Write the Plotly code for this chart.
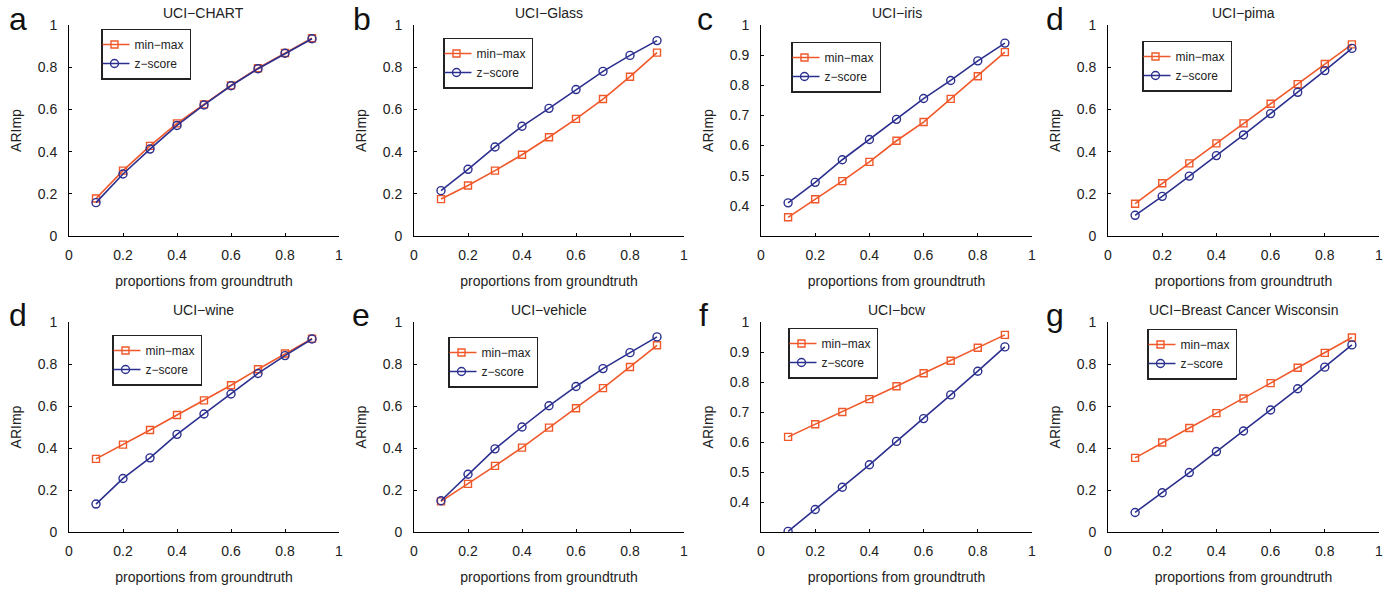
import plotly.graph_objects as go

x_props = [0.1, 0.2, 0.3, 0.4, 0.5, 0.6, 0.7, 0.8, 0.9]

titles = ["UCI\u2212CHART", "UCI\u2212Glass", "UCI\u2212iris", "UCI\u2212pima",
          "UCI\u2212wine", "UCI\u2212vehicle", "UCI\u2212bcw", "UCI\u2212Breast Cancer Wisconsin"]
letters = ["a", "b", "c", "d", "d", "e", "f", "g"]

minmax = [
    [0.178, 0.310, 0.427, 0.534, 0.624, 0.714, 0.795, 0.867, 0.937],
    [0.175, 0.239, 0.310, 0.385, 0.468, 0.555, 0.649, 0.755, 0.869],
    [0.362, 0.422, 0.482, 0.546, 0.616, 0.678, 0.755, 0.830, 0.910],
    [0.153, 0.250, 0.344, 0.439, 0.534, 0.627, 0.720, 0.815, 0.908],
    [0.348, 0.416, 0.486, 0.557, 0.627, 0.699, 0.775, 0.850, 0.921],
    [0.146, 0.229, 0.315, 0.402, 0.497, 0.589, 0.685, 0.786, 0.889],
    [0.617, 0.659, 0.700, 0.743, 0.786, 0.829, 0.871, 0.914, 0.957],
    [0.353, 0.426, 0.495, 0.566, 0.636, 0.709, 0.782, 0.853, 0.926],
]
zscore = [
    [0.158, 0.294, 0.412, 0.524, 0.621, 0.712, 0.793, 0.866, 0.935],
    [0.215, 0.316, 0.422, 0.520, 0.605, 0.694, 0.780, 0.856, 0.926],
    [0.410, 0.478, 0.553, 0.620, 0.687, 0.756, 0.816, 0.881, 0.940],
    [0.098, 0.188, 0.284, 0.381, 0.479, 0.580, 0.681, 0.784, 0.889],
    [0.133, 0.255, 0.353, 0.465, 0.562, 0.657, 0.755, 0.840, 0.919],
    [0.149, 0.275, 0.396, 0.500, 0.601, 0.693, 0.778, 0.854, 0.929],
    [0.302, 0.375, 0.449, 0.524, 0.602, 0.678, 0.757, 0.836, 0.917],
    [0.093, 0.187, 0.283, 0.383, 0.481, 0.581, 0.682, 0.785, 0.891],
]
y_ranges = [[0, 1], [0, 1], [0.3, 1], [0, 1], [0, 1], [0, 1], [0.3, 1], [0, 1]]
y_ticks_full = [0, 0.2, 0.4, 0.6, 0.8, 1]
y_ticks_short = [0.4, 0.5, 0.6, 0.7, 0.8, 0.9, 1]
x_ticks = [0, 0.2, 0.4, 0.6, 0.8, 1]

W, H = 1397, 590
col_px = [(69, 339), (414, 684), (761, 1032), (1108, 1379)]
row_px = [(25, 236), (322, 532)]
# legend: left edge x, vertical centre y (pixels)
legend_px = [(101, 54), (443, 63), (791, 67), (1142, 66),
             (112, 360), (448, 362), (788, 353), (1147, 354)]
letter_px = [(18, 19), (362, 19), (705, 19), (1055, 19),
             (18, 315), (361, 315), (703, 315), (1055, 315)]

RED = "#F0582A"
BLUE = "#2B2F8E"
FONT = "Liberation Sans, Arial, sans-serif"

fig = go.Figure()
layout = dict(
    template="none",
    width=W, height=H, margin=dict(l=0, r=0, t=0, b=0, autoexpand=False),
    paper_bgcolor="white", plot_bgcolor="white",
    font=dict(family=FONT, size=14, color="#222"),
    annotations=[], showlegend=True,
)

for i in range(8):
    r, c = divmod(i, 4)
    n = "" if i == 0 else str(i + 1)
    xa, ya = "x" + n, "y" + n
    leg = "legend" if i == 0 else "legend" + str(i + 1)
    x0, x1 = col_px[c]
    y0, y1 = row_px[r]
    fig.add_trace(go.Scatter(
        x=x_props, y=minmax[i], name="min\u2212max", mode="lines+markers",
        line=dict(color=RED, width=1.6),
        marker=dict(symbol="square-open", size=7, color=RED, line=dict(width=1.4)),
        xaxis=xa, yaxis=ya, legend=leg))
    fig.add_trace(go.Scatter(
        x=x_props, y=zscore[i], name="z\u2212score", mode="lines+markers",
        line=dict(color=BLUE, width=1.6),
        marker=dict(symbol="circle-open", size=8, color=BLUE, line=dict(width=1.4)),
        xaxis=xa, yaxis=ya, legend=leg))
    short = y_ranges[i][0] > 0
    yt = y_ticks_short if short else y_ticks_full
    layout["xaxis" + n] = dict(
        domain=[x0 / W, x1 / W], range=[0, 1], anchor=ya, automargin=False,
        tickvals=x_ticks, ticktext=[("%g" % v) for v in x_ticks],
        ticks="inside", ticklen=3, tickcolor="black", tickwidth=1,
        showline=True, linecolor="black", linewidth=1, showgrid=False, zeroline=False,
        tickfont=dict(size=14, color="#222"), ticklabelstandoff=6,
        title=dict(text="proportions from groundtruth", font=dict(size=14), standoff=14),
    )
    layout["yaxis" + n] = dict(
        domain=[1 - y1 / H, 1 - y0 / H], range=y_ranges[i], anchor=xa, automargin=False,
        tickvals=yt, ticktext=[("%g" % v) for v in yt],
        ticks="inside", ticklen=3, tickcolor="black", tickwidth=1,
        showline=True, linecolor="black", linewidth=1, showgrid=False, zeroline=False,
        tickfont=dict(size=14, color="#222"), ticklabelstandoff=8,
        title=dict(text="ARImp", font=dict(size=14), standoff=12),
    )
    lx, ly = legend_px[i]
    layout[leg] = dict(
        x=lx / W, y=1 - ly / H, xanchor="left", yanchor="middle",
        xref="paper", yref="paper",
        bordercolor="#222", borderwidth=1.5, bgcolor="white",
        font=dict(size=12, color="#222"), tracegroupgap=0,
        itemwidth=30, indentation=-8,
    )
    layout["annotations"].append(dict(
        text=titles[i], x=(x0 + x1) / 2 / W, y=1 - (y0 - 12) / H,
        xref="paper", yref="paper", showarrow=False,
        font=dict(size=14, color="#222"), xanchor="center", yanchor="middle"))
    lx2, ly2 = letter_px[i]
    layout["annotations"].append(dict(
        text=letters[i], x=lx2 / W, y=1 - ly2 / H,
        xref="paper", yref="paper", showarrow=False,
        font=dict(size=32, color="#111"), xanchor="center", yanchor="middle"))

fig.update_layout(**layout)
fig.write_html("out.html", config={"displayModeBar": False},
               post_script="document.body.style.margin='0px';")
